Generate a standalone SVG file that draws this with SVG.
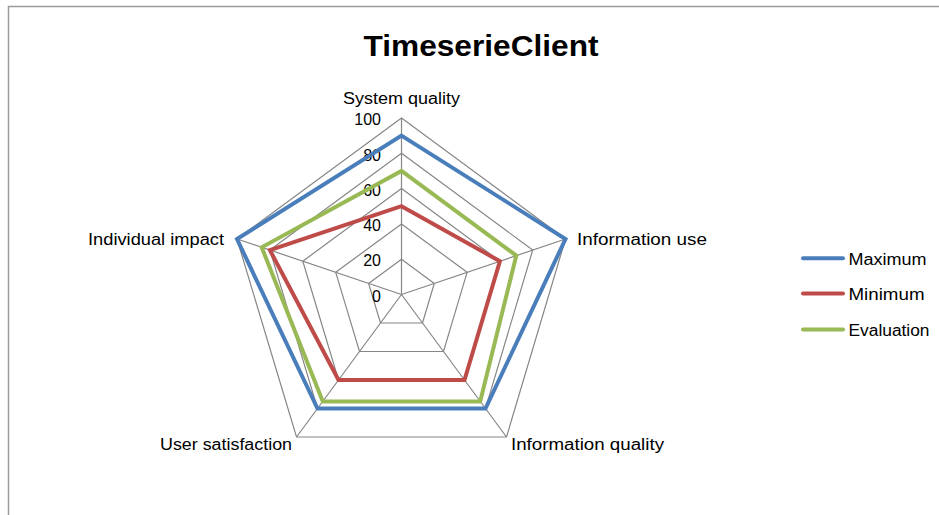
<svg xmlns="http://www.w3.org/2000/svg" width="939" height="515" viewBox="0 0 939 515">
  <style>
    .lbl { font-family: "Liberation Sans", Arial, sans-serif; font-size: 16px; fill: #000; }
    .tick { font-family: "Liberation Sans", Arial, sans-serif; font-size: 16px; fill: #000; text-anchor: end; }
    .title { font-family: "Liberation Sans", Arial, sans-serif; font-size: 29px; font-weight: bold; fill: #000; }
    .grid { fill: none; stroke: #868686; stroke-width: 1.2; }
    .series { fill: none; stroke-width: 4; stroke-linejoin: miter; }
    .max { stroke: #4A7EBB; }
    .min { stroke: #BE4B48; }
    .eval { stroke: #98B954; }
  </style>

  <rect width="939" height="515" fill="#ffffff"/>
  <!-- chart area frame -->
  <path d="M8.5,515 V6.5 H939" fill="none" stroke="#9a9a9a" stroke-width="1.5"/>

  <text id="title" class="title" x="481" y="56" text-anchor="middle" textLength="235" lengthAdjust="spacingAndGlyphs">TimeserieClient</text>

  <!-- radar grid: rings at 20, 40, 60, 80, 100 and spokes -->
  <g id="grid">
    <polygon class="grid" points="401.5,259.2 434.3,283.4 422.5,323 380.5,323 368.6,283.4"/>
    <polygon class="grid" points="401.5,223.9 467.1,272.3 443.5,351.5 359.5,351.5 335.7,272.3"/>
    <polygon class="grid" points="401.5,188.6 499.9,261.2 464.5,380 338.5,380 302.8,261.2"/>
    <polygon class="grid" points="401.5,153.3 532.7,250.1 485.5,408.5 317.5,408.5 269.9,250.1"/>
    <polygon class="grid" points="401.5,118 565.5,239 506.5,437 296.5,437 237,239"/>
    <path class="grid" d="M401.5,294.5 L401.5,118 M401.5,294.5 L565.5,239 M401.5,294.5 L506.5,437 M401.5,294.5 L296.5,437 M401.5,294.5 L237,239"/>
  </g>

  <!-- value axis labels -->
  <g id="ticks">
    <text class="tick" x="381" y="125">100</text>
    <text class="tick" x="381" y="160.5">80</text>
    <text class="tick" x="381" y="195.5">60</text>
    <text class="tick" x="381" y="231">40</text>
    <text class="tick" x="381" y="266">20</text>
    <text class="tick" x="381" y="301.5">0</text>
  </g>

  <!-- data series -->
  <g id="series">
    <polygon id="s-max" class="series max" points="401.5,135.6 565.5,239 485.5,408.5 317.5,408.5 237,239"/>
    <polygon id="s-min" class="series min" points="401.5,206.2 499.9,261.2 464.5,380 338.5,380 269.9,250.1"/>
    <polygon id="s-eval" class="series eval" points="401.5,170.9 516.3,255.6 480.2,401.4 322.8,401.4 261.7,247.3"/>
  </g>

  <!-- category labels -->
  <g id="categories">
    <text class="lbl" x="401.5" y="104" text-anchor="middle" textLength="117" lengthAdjust="spacingAndGlyphs">System quality</text>
    <text class="lbl" x="577" y="245" textLength="130" lengthAdjust="spacingAndGlyphs">Information use</text>
    <text class="lbl" x="511" y="450" textLength="153" lengthAdjust="spacingAndGlyphs">Information quality</text>
    <text class="lbl" x="292" y="450" text-anchor="end" textLength="132" lengthAdjust="spacingAndGlyphs">User satisfaction</text>
    <text class="lbl" x="224" y="245" text-anchor="end" textLength="136" lengthAdjust="spacingAndGlyphs">Individual impact</text>
  </g>

  <!-- legend -->
  <g id="legend">
    <g id="leg-max">
      <line class="series max" x1="803" y1="258.3" x2="843" y2="258.3" stroke-linecap="round"/>
      <text class="lbl" x="848.5" y="264.5" textLength="78" lengthAdjust="spacingAndGlyphs">Maximum</text>
    </g>
    <g id="leg-min">
      <line class="series min" x1="803" y1="293.5" x2="843" y2="293.5" stroke-linecap="round"/>
      <text class="lbl" x="848.5" y="299.5" textLength="76" lengthAdjust="spacingAndGlyphs">Minimum</text>
    </g>
    <g id="leg-eval">
      <line class="series eval" x1="803" y1="329.5" x2="843" y2="329.5" stroke-linecap="round"/>
      <text class="lbl" x="848.5" y="335.5" textLength="81" lengthAdjust="spacingAndGlyphs">Evaluation</text>
    </g>
  </g>
</svg>
